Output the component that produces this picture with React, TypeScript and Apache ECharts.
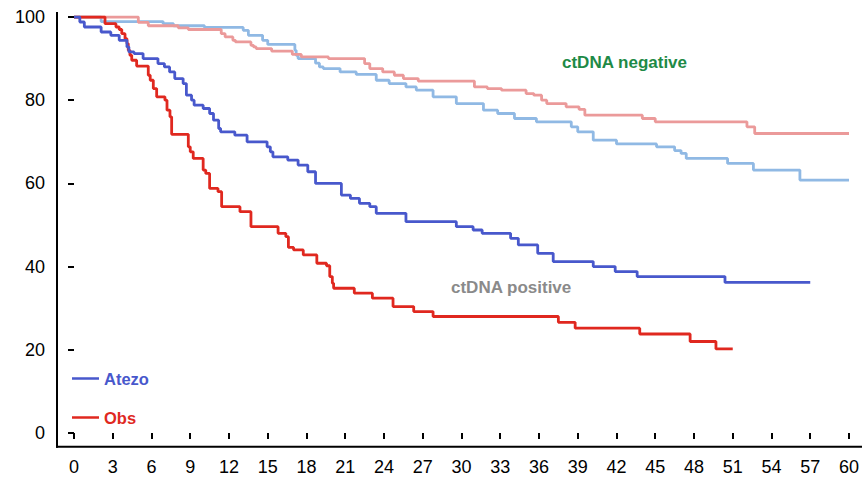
import React, { useEffect, useRef } from "react";
import * as echarts from "echarts";

// Axis ranges (months / percent)
const X_MIN = 0;
const X_MAX = 60;
const X_STEP = 3;
const Y_MIN = 0;
const Y_MAX = 100;
const Y_STEP = 20;

// Kaplan-Meier curves: [month, survival %]
const atezoNegative: number[][] = [
  [0, 100], [2.1, 98.9], [6.9, 98.4], [7.7, 97.9], [10.1, 97.5], [13.1, 96.8], [13.5, 95.6],
  [14.6, 94.4], [15.0, 93.4], [17.1, 92], [17.2, 90.8], [17.35, 90], [18.7, 88.9], [19.0, 88],
  [19.3, 87.6], [20.6, 86.8], [21.85, 86.2], [23.4, 84.8], [24.4, 84], [25.7, 83.2], [26.5, 82.4],
  [27.8, 80.8], [29.6, 79.2], [31.7, 77.6], [32.8, 76.8], [34.1, 75.6], [35.8, 74.8], [38.5, 73.6],
  [39.0, 72.4], [40.2, 70.4], [42.0, 69.5], [45.1, 68.8], [46.5, 67.9], [47.0, 67.2], [47.4, 66],
  [50.6, 64.8], [52.6, 63.2], [56.2, 60.8], [60, 60.8],
];

const obsNegative: number[][] = [
  [0, 100], [4.98, 98.7], [5.75, 97.9], [8.07, 97.4], [8.85, 97], [11.4, 96], [11.7, 95.2],
  [12.3, 94.4], [12.5, 94], [13.7, 93.2], [13.9, 92.8], [14.1, 92.4], [15.3, 91.8], [16.9, 91],
  [17.6, 90.4], [19.7, 90], [22.5, 88.8], [22.9, 87.6], [23.9, 86.8], [24.8, 86], [25.5, 85.2],
  [26.65, 84.6], [31.0, 83.2], [32.0, 82.8], [33.1, 82.4], [35.0, 81.6], [35.6, 81.2], [36.2, 80],
  [36.6, 79.2], [38.1, 78.4], [39.1, 77.8], [39.55, 76.4], [44.0, 75.6], [45.0, 74.8], [52.1, 73.6],
  [52.7, 72], [60, 72],
];

const obsPositive: number[][] = [
  [0, 100], [2.4, 98.4], [3.25, 97.6], [3.5, 97], [3.7, 96], [3.95, 94.8], [4.1, 93.6], [4.2, 92],
  [4.33, 90.8], [4.47, 89.6], [4.85, 88.2], [5.75, 86], [5.9, 84.8], [6.14, 82.8], [6.4, 80.8],
  [7.04, 80], [7.2, 77.6], [7.43, 76], [7.56, 71.8], [8.85, 68.8], [9.0, 67.6], [9.23, 66],
  [10.0, 63.2], [10.2, 62.4], [10.5, 58.8], [11.15, 58], [11.43, 54.4], [12.85, 53.2], [13.7, 49.6],
  [15.8, 48], [16.4, 47.2], [16.6, 44.6], [17.0, 44], [17.75, 42.8], [18.8, 40.8], [19.55, 40.2],
  [19.8, 37.6], [20.0, 36], [20.1, 34.8], [21.7, 33.6], [23.1, 32.4], [24.7, 30.4], [26.3, 29.2],
  [27.8, 28], [37.5, 26.6], [38.8, 25.2], [43.8, 23.8], [47.7, 22], [49.7, 20.2], [51.0, 20.2],
];

const atezoPositive: number[][] = [
  [0, 100], [0.45, 98.8], [0.8, 97.6], [2.1, 96.4], [2.85, 95.6], [3.5, 94.4], [4.1, 92.8],
  [4.25, 91.6], [4.65, 91.2], [5.35, 90], [6.5, 88.8], [7.0, 88], [7.4, 86.8], [7.8, 85.2],
  [8.45, 84], [8.7, 81.2], [9.1, 80], [9.3, 78.8], [10.0, 78], [10.5, 76.8], [10.8, 75.2],
  [11.2, 73.2], [11.35, 72.4], [12.45, 71.6], [13.4, 70], [14.95, 68.8], [15.2, 67.6], [15.4, 66.4],
  [16.55, 65.6], [17.35, 64.4], [18.1, 62.8], [18.7, 60], [20.7, 57.2], [21.4, 56.4], [22.1, 55.2],
  [22.9, 54.4], [23.4, 52.8], [25.7, 50.8], [29.6, 49.6], [30.9, 48.8], [31.6, 48], [33.8, 46.8],
  [34.4, 45.2], [35.9, 43.2], [37.1, 41.2], [40.2, 40], [41.9, 38.8], [43.6, 37.6], [50.4, 36.2],
  [57.0, 36.2],
];

const legendNames = ["Atezo", "Obs"];
const groupLabels = ["ctDNA negative", "ctDNA positive"];

const C_ATEZO = "#4858cc";
const C_OBS = "#e0281f";
const C_ATEZO_NEG = "#90b9e4";
const C_OBS_NEG = "#eb9a9a";
const C_NEG_TEXT = "#1e8a46";
const C_POS_TEXT = "#8a8a8a";
const FONT = '"Liberation Sans", Arial, Helvetica, sans-serif';

export default function App() {
  const ref = useRef<HTMLDivElement>(null);

  useEffect(() => {
    if (!ref.current) return;
    const chart = echarts.init(ref.current, null, { renderer: "svg" });
    const lineSeries = (name: string, data: number[][], color: string, z: number) => ({
      name,
      type: "line",
      step: "end",
      data,
      symbol: "none",
      z,
      lineStyle: { color, width: 2.8 },
      itemStyle: { color },
    });
    chart.setOption({
      animation: false,
      backgroundColor: "#ffffff",
      grid: { left: 74, right: 13, top: 17, bottom: 44 },
      xAxis: {
        type: "value",
        min: X_MIN,
        max: X_MAX,
        interval: X_STEP,
        offset: 13,
        axisLine: { show: false },
        axisTick: { show: true, length: 6, lineStyle: { color: "#000", width: 2 } },
        axisLabel: { color: "#000", fontSize: 18, fontFamily: FONT, margin: 12 },
        splitLine: { show: false },
      },
      yAxis: {
        type: "value",
        min: Y_MIN,
        max: Y_MAX,
        interval: Y_STEP,
        offset: 17,
        axisLine: { show: false },
        axisTick: { show: true, length: 6, lineStyle: { color: "#000", width: 2 } },
        axisLabel: { color: "#000", fontSize: 18, fontFamily: FONT, margin: 12 },
        splitLine: { show: false },
      },
      legend: {
        data: [
          { name: legendNames[0], textStyle: { color: C_ATEZO } },
          { name: legendNames[1], textStyle: { color: C_OBS } },
        ],
        orient: "vertical",
        left: 72,
        top: 370,
        padding: 0,
        itemGap: 22,
        itemWidth: 27,
        itemHeight: 2.5,
        icon: "rect",
        selectedMode: false,
        textStyle: { fontSize: 16.5, fontWeight: "bold", fontFamily: FONT },
      },
      graphic: [
        { type: "line", shape: { x1: 57, y1: 12, x2: 57, y2: 447.7 }, style: { stroke: "#000", lineWidth: 2 } },
        { type: "line", shape: { x1: 56, y1: 446.7, x2: 862, y2: 446.7 }, style: { stroke: "#000", lineWidth: 2 } },
        {
          type: "text",
          x: 562,
          y: 62,
          style: {
            text: groupLabels[0],
            fill: C_NEG_TEXT,
            fontSize: 17,
            fontWeight: "bold",
            fontFamily: FONT,
            align: "left",
            verticalAlign: "middle",
          },
        },
        {
          type: "text",
          x: 451,
          y: 287,
          style: {
            text: groupLabels[1],
            fill: C_POS_TEXT,
            fontSize: 17,
            fontWeight: "bold",
            fontFamily: FONT,
            align: "left",
            verticalAlign: "middle",
          },
        },
      ],
      series: [
        lineSeries("Atezo (ctDNA negative)", atezoNegative, C_ATEZO_NEG, 2),
        lineSeries("Obs (ctDNA negative)", obsNegative, C_OBS_NEG, 3),
        lineSeries(legendNames[1], obsPositive, C_OBS, 4),
        lineSeries(legendNames[0], atezoPositive, C_ATEZO, 5),
      ],
    });
    return () => chart.dispose();
  }, []);

  return (
    <div
      ref={ref}
      style={{ position: "fixed", left: 0, top: 0, width: 862, height: 477, background: "#fff" }}
    />
  );
}
